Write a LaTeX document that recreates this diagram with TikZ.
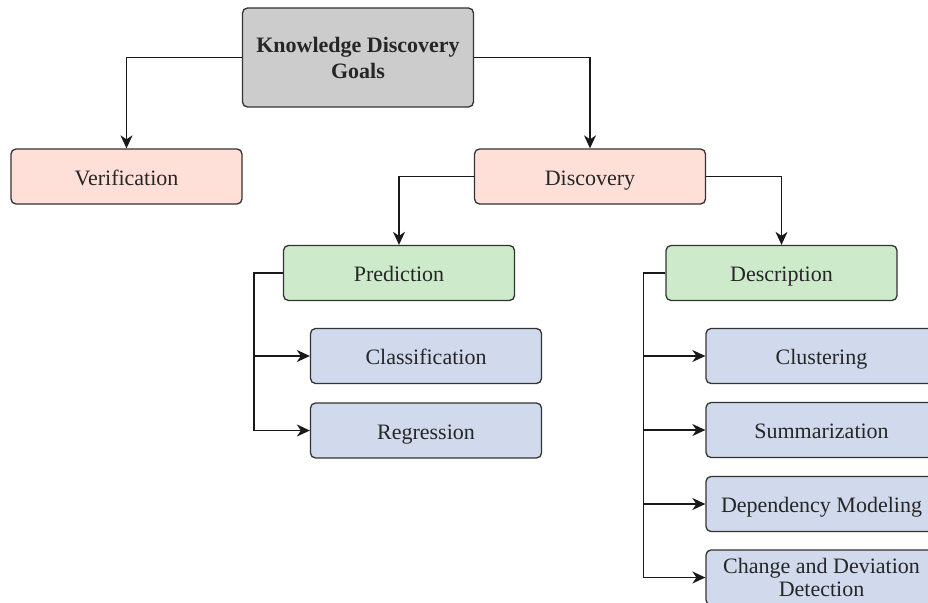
\documentclass[tikz,border=0pt]{standalone}
\usepackage{fontspec}
\setmainfont{Liberation Serif}
\usepackage{tikz}
\usetikzlibrary{
    calc,
    arrows.meta,
    positioning
}
\definecolor{goalgray}{RGB}{204,204,204}
\definecolor{typepink}{RGB}{255,224,217}
\definecolor{taskgreen}{RGB}{205,235,203}
\definecolor{methodblue}{RGB}{208,218,236}
\definecolor{edgegray}{RGB}{51,51,51}
\tikzset{
    every node/.style={font=\fontsize{22}{26}\selectfont, text=black!85},
    box/.style={draw=edgegray, line width=1.3pt, rounded corners=5pt,
        minimum width=231pt, minimum height=55pt, inner sep=0pt, align=center,
        text height=20pt, text depth=3pt},
    twolines/.style={text height={}, text depth={}},
    goalbox/.style={box, twolines, fill=goalgray, minimum height=99pt},
    typebox/.style={box, fill=typepink},
    taskbox/.style={box, fill=taskgreen},
    methodbox/.style={box, fill=methodblue},
    link/.style={line width=1.3pt, draw=black!90, ->, >={Stealth[length=13pt,width=12pt,inset=4pt]}}
}

\begin{document}
\begin{tikzpicture}[x=1pt, y=-1pt]
        \path[use as bounding box, clip] (0,0) rectangle (928,602);

        \draw (358,57.5) node[goalbox](kdg){\textbf{Knowledge Discovery}\\\textbf{Goals}};

        \draw (126.5,176.5) node[typebox](ver){Verification};
        \draw (590,176.5)   node[typebox](dis){Discovery};

        \draw (399,273)   node[taskbox](pred){Prediction};
        \draw (781.5,273) node[taskbox](desc){Description};

        \draw (426,356)   node[methodbox](cls){Classification};
        \draw (426,430.5) node[methodbox](reg){Regression};

        \draw (821.5,356)   node[methodbox](clu){Clustering};
        \draw (821.5,430)   node[methodbox](sum){Summarization};
        \draw (821.5,504)   node[methodbox](dep){Dependency Modeling};
        \draw (821.5,577.5) node[methodbox, twolines, font=\fontsize{22}{23}\selectfont](chg){Change and Deviation\\Detection};

        \draw[link] (kdg) -| (ver);
        \draw[link] (kdg) -| (dis);
        \draw[link] (dis) -| (pred);
        \draw[link] (dis) -| (desc);

        \draw[link] (pred.west) -- ++(-29,0) |- (cls);
        \draw[link] (pred.west) -- ++(-29,0) |- (reg);

        \draw[link] (desc.west) -- ++(-22,0) |- (clu);
        \draw[link] (desc.west) -- ++(-22,0) |- (sum);
        \draw[link] (desc.west) -- ++(-22,0) |- (dep);
        \draw[link] (desc.west) -- ++(-22,0) |- (chg);
    \end{tikzpicture}
\end{document}
